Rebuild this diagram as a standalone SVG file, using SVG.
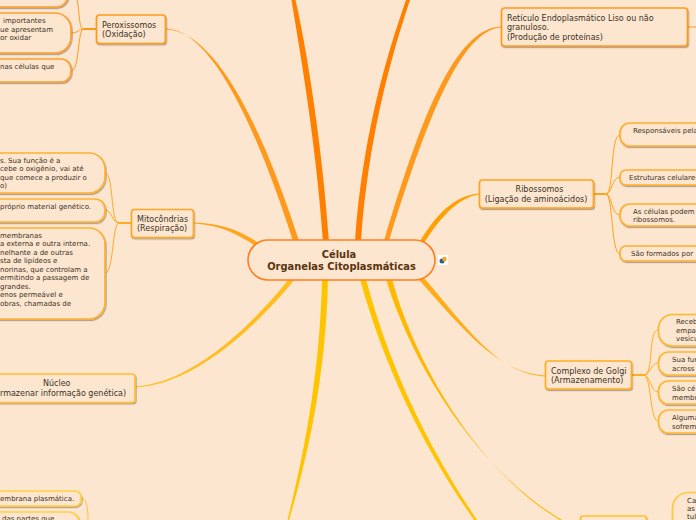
<svg xmlns="http://www.w3.org/2000/svg" width="696" height="520" viewBox="0 0 696 520">
<style>
text{font-family:"DejaVu Sans",Verdana,sans-serif;fill:#3a3226}
.m{font-size:8px}
.s{font-size:7px}
.c{font-size:9.900px;font-weight:bold;fill:#5a3510;text-anchor:middle}
.mid{text-anchor:middle}
.b{fill:#fde6cf;stroke-width:1.7;filter:url(#sh)}
.t{fill:none;stroke-width:1}
</style>
<defs><filter id="sh" x="-10%" y="-20%" width="120%" height="140%"><feDropShadow dx="0.7" dy="1.2" stdDeviation="0.7" flood-color="#000" flood-opacity="0.35"/></filter></defs>
<rect width="696" height="520" fill="#fde6cf"/>
<g id="connectors">
<path d="M291.500,0 C298,40 316,140 323,241 L329,241 C322,140 305,40 295.500,0Z" fill="#ff7f00"/>
<path d="M406,0 C385,60 362,140 355,241 L361,241 C368,140 390,60 410,0Z" fill="#ff7f00"/>
<path d="M166,28.500 C210,30 254,120 293,241 L299,241 C260,120 214,31 166,29.500Z" fill="#ff991c"/>
<path d="M501,26.500 C455,28 420,120 384,241 L389,241 C425,125 460,30 501,27.500Z" fill="#ff991c"/>
<path d="M194,222.500 C220,223 240,230 260,244 L257,247 C238,234 220,225 194,223.500Z" fill="#ffa620"/>
<path d="M479,193.500 C455,195 435,215 419,243 L423,245 C438,220 458,197 479,194.500Z" fill="#ffa000"/>
<path d="M135,386.500 C190,384 250,328 289,279 L295,279 C253,331 192,385 135,387.500Z" fill="#ffbe1e"/>
<path d="M287.500,520 C305,450 320,370 322,279 L328,279 C326,370 310,450 289,520Z" fill="#ffc400"/>
<path d="M474,520 C425,450 385,370 360,279 L366,279 C390,370 430,450 477,520Z" fill="#ffc400"/>
<path d="M580,529.500 C490,487 415,375 386,279 L392,279 C418,375 492,491 580,530.500Z" fill="#ffb800"/>
<path d="M545,375.500 C495,372 460,325 419,280 L424,278 C465,325 497,374 545,376.500Z" fill="#ffac18"/>
<path d="M696,26.500 H688 V27.500 H696Z" fill="#ff991c"/>
<g stroke="#ff991c">
<path d="M96,29 H84" stroke-width="2" fill="none"/>
<path class="t" d="M84,29 C78,29 80,10 77,0M84,29 C78,29 79,33 71,33M84,29 C77,29 80,71 71,71"/>
</g>
<g stroke="#ffaa22">
<path d="M131,223 H119" stroke-width="2" fill="none"/>
<path class="t" d="M119,223 C110,223 114,173 105,173M119,223 C112,223 112,210 105,210M119,223 C112,223 114,273 105,273"/>
</g>
<g stroke="#ffa31a">
<path d="M594,194 H606" stroke-width="2" fill="none"/>
<path class="t" d="M606,194 C614,194 610,135 620,135M606,194 C612,194 612,177 620,177M606,194 C612,194 611,215 620,215M606,194 C613,194 611,254 620,254"/>
</g>
<g stroke="#ffae22">
<path d="M632,375 H644" stroke-width="2" fill="none"/>
<path class="t" d="M644,375 C654,375 648,330 658,330M644,375 C650,375 651,363 658,363M644,375 C650,375 651,392 658,392M644,375 C651,375 650,421 658,421"/>
</g>
<path class="t" stroke="#ffc433" d="M81,498 C86,498 88,505 88,520"/>
</g>
<g id="per-1"><rect class="b" x="-20" y="-20" width="88" height="27" rx="12" stroke="#ff9f2e"/></g>
<g id="per-2"><rect class="b" x="-20" y="13" width="91" height="40" rx="16" stroke="#ff9f2e"/>
<text class="s" x="3" y="23">importantes</text><text class="s" x="0" y="32">ue apresentam</text><text class="s" x="0" y="40">or oxidar</text></g>
<g id="per-3"><rect class="b" x="-20" y="59" width="91" height="23" rx="10" stroke="#ff9f2e"/>
<text class="s" x="0" y="69">nas células que</text></g>
<g id="peroxissomos"><rect class="b" x="96.500" y="15" width="69" height="28.500" rx="3" stroke="#ff991c"/>
<text class="m" x="102" y="28">Peroxissomos</text><text class="m" x="102" y="37">(Oxidação)</text></g>
<g id="mit-1"><rect class="b" x="-20" y="153" width="125" height="40" rx="16" stroke="#ffb030"/>
<text class="s" x="0" y="163">s. Sua função é a</text><text class="s" x="0" y="171">cebe o oxigênio, vai até</text><text class="s" x="0" y="180">que comece a produzir o</text><text class="s" x="0" y="188">o)</text></g>
<g id="mit-2"><rect class="b" x="-20" y="199" width="125" height="23" rx="10" stroke="#ffb030"/>
<text class="s" x="0" y="209">próprio material genético.</text></g>
<g id="mit-3"><rect class="b" x="-20" y="228" width="125" height="91" rx="16" stroke="#ffb030"/>
<text class="s" x="0" y="238">membranas</text><text class="s" x="0" y="246">a externa e outra interna.</text><text class="s" x="0" y="255">nelhante a de outras</text><text class="s" x="0" y="263">sta de lipídeos e</text><text class="s" x="0" y="272">norinas, que controlam a</text><text class="s" x="0" y="280">ermitindo a passagem de</text><text class="s" x="0" y="289">grandes.</text><text class="s" x="0" y="297">enos permeável e</text><text class="s" x="0" y="306">obras, chamadas de</text></g>
<g id="mitocondrias"><rect class="b" x="131.500" y="209.500" width="62" height="28" rx="3" stroke="#ffa620"/>
<text class="m" x="137" y="222">Mitocôndrias</text><text class="m" x="137" y="231">(Respiração)</text></g>
<g id="nucleo"><rect class="b" x="-40" y="374" width="175" height="28.500" rx="3" stroke="#ffbe32"/>
<text class="m" x="43" y="386">Núcleo</text><text class="m" x="0" y="396">rmazenar informação genética)</text></g>
<g id="nuc-1"><rect class="b" x="-20" y="491" width="101" height="15" rx="6" stroke="#ffd040"/>
<text class="s" x="0" y="501">embrana plasmática.</text></g>
<g id="nuc-2"><rect class="b" x="-20" y="512" width="99" height="30" rx="10" stroke="#ffd040"/>
<text class="s" x="2" y="521">das partes que</text></g>
<g id="celula"><rect x="248" y="240" width="187" height="40" rx="20" fill="#fde6cf" stroke="#ff7f1e" stroke-width="1.600"/>
<text class="c" x="339" y="258">Célula</text><text class="c" x="341.500" y="270">Organelas Citoplasmáticas</text></g>
<g id="icone"><rect x="438" y="255" width="10" height="10" fill="#fff"/><circle cx="442" cy="261" r="2.500" fill="#3a5a86"/><circle cx="444.500" cy="259" r="2.300" fill="#f5a623"/></g>
<g id="reticulo"><rect class="b" x="501.500" y="8" width="186" height="38" rx="3" stroke="#ff991c"/>
<text class="m" x="507" y="21">Retículo Endoplasmático Liso ou não</text><text class="m" x="507" y="30">granuloso.</text><text class="m" x="507" y="40">(Produção de proteínas)</text></g>
<g id="ribossomos"><rect class="b" x="479.500" y="180" width="114" height="28" rx="3" stroke="#ffa31a"/>
<text class="m mid" x="539.500" y="192">Ribossomos</text><text class="m mid" x="536" y="202">(Ligação de aminoácidos)</text></g>
<g id="rib-1"><rect class="b" x="620" y="123" width="100" height="23" rx="10" stroke="#ffae2c"/><text class="s" x="633" y="133">Responsáveis pela</text></g>
<g id="rib-2"><rect class="b" x="620" y="170" width="100" height="15" rx="6" stroke="#ffae2c"/><text class="s" x="629" y="180">Estruturas celulares</text></g>
<g id="rib-3"><rect class="b" x="620" y="204" width="100" height="22" rx="10" stroke="#ffae2c"/><text class="s" x="633" y="214">As células podem</text><text class="s" x="633" y="222">ribossomos.</text></g>
<g id="rib-4"><rect class="b" x="620" y="246" width="100" height="15" rx="6" stroke="#ffae2c"/><text class="s" x="631" y="256">São formados por</text></g>
<g id="golgi"><rect class="b" x="545.500" y="361" width="86" height="28" rx="3" stroke="#ffae22"/>
<text class="m" x="551" y="374">Complexo de Golgi</text><text class="m" x="551" y="383">(Armazenamento)</text></g>
<g id="gol-1"><rect class="b" x="658.500" y="314.500" width="60" height="31.500" rx="14" stroke="#ffb732"/><text class="s" x="676" y="324">Receb</text><text class="s" x="676" y="333">empa</text><text class="s" x="676" y="341">vesícu</text></g>
<g id="gol-2"><rect class="b" x="658.500" y="352" width="60" height="23" rx="10" stroke="#ffb732"/><text class="s" x="672" y="362">Sua fun</text><text class="s" x="672" y="371">across</text></g>
<g id="gol-3"><rect class="b" x="658.500" y="381" width="60" height="23" rx="10" stroke="#ffb732"/><text class="s" x="672" y="391">São cé</text><text class="s" x="672" y="400">membr</text></g>
<g id="gol-4"><rect class="b" x="658.500" y="410" width="60" height="23" rx="10" stroke="#ffb732"/><text class="s" x="672" y="420">Alguma</text><text class="s" x="672" y="429">sofrem</text></g>
<g id="lis"><rect class="b" x="580.500" y="516" width="66" height="28" rx="3" stroke="#ffbe28"/></g>
<g id="lis-1"><rect class="b" x="672.500" y="492.500" width="60" height="60" rx="16" stroke="#ffc840"/><text class="s" x="687" y="503">Ca</text><text class="s" x="687" y="511">as</text><text class="s" x="687" y="519">tul</text></g>
</svg>
